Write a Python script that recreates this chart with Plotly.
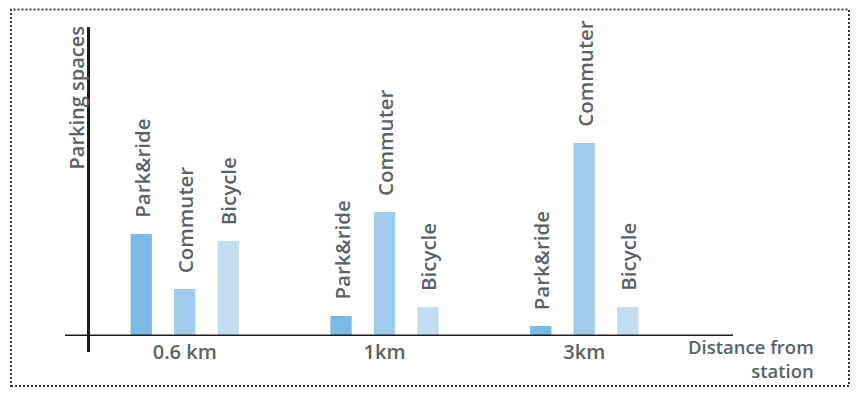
import plotly.graph_objects as go

# ---- data ----
distances = ["0.6 km", "1km", "3km"]
series_names = ["Park&ride", "Commuter", "Bicycle"]
park_ride = [102, 20, 10]
commuter = [47, 124, 193]
bicycle = [95, 29, 29]
series_values = [park_ride, commuter, bicycle]

# ---- style ----
colors = ["#7bbae4", "#a0ccec", "#c2dcf0"]
text_color = "#5a6167"
axis_color = "#1d1d1b"
FONT = "Open Sans"
WEIGHT = 600

OFF = 8  # page body margin
W, H = 858 - 2 * OFF, 395 - 2 * OFF
ML, MT = 65 - OFF, 27 - OFF
MB = 59 - OFF
PW = 733 - 65
MR = W - ML - PW
PH = H - MT - MB

def px_x(px):
    return (px - OFF - ML) / PW

def px_y(py):
    return (H - MB - (py - OFF)) / PH

cat_px = 199.75
first_cat_px = 184.75
bargap = 0.3467
slot_px = (1 - bargap) * cat_px / 3

fig = go.Figure()
for name, vals, col in zip(series_names, series_values, colors):
    fig.add_trace(go.Bar(x=distances, y=vals, name=name, marker_color=col,
                         marker_line_width=0, hoverinfo="skip"))

annotations = []
for i, (name, vals) in enumerate(zip(series_names, series_values)):
    for cat, v in zip(distances, vals):
        annotations.append(dict(
            x=cat, y=v, xref="x", yref="y", text=name, showarrow=False,
            textangle=-90, xanchor="center", yanchor="bottom",
            xshift=(i - 1) * slot_px, yshift=14,
            font=dict(family=FONT, size=20.5, color=text_color, weight=WEIGHT)))

annotations.append(dict(
    x=px_x(76), y=px_y(97.5), xref="paper", yref="paper", text="Parking spaces",
    showarrow=False, textangle=-90, xanchor="center", yanchor="middle",
    font=dict(family=FONT, size=20, color=text_color, weight=WEIGHT)))
annotations.append(dict(
    x=px_x(816), y=px_y(385), xref="paper", yref="paper",
    text="Distance from<br>station", align="right",
    showarrow=False, xanchor="right", yanchor="bottom",
    font=dict(family=FONT, size=18.5, color=text_color, weight=WEIGHT)))

shapes = [
    # dotted frame
    dict(type="rect", xref="paper", yref="paper",
         x0=px_x(11), x1=px_x(849), y0=px_y(386), y1=px_y(9.5),
         line=dict(color="#3a3a3a", width=2, dash="2px,2px"), layer="below"),
    # x axis line
    dict(type="line", xref="paper", yref="y", x0=0, x1=1, y0=0, y1=0,
         line=dict(color=axis_color, width=3)),
    # y axis line
    dict(type="line", xref="paper", yref="paper",
         x0=px_x(88.5), x1=px_x(88.5), y0=px_y(352), y1=1,
         line=dict(color=axis_color, width=3)),
]

fig.update_layout(
    width=W, height=H, autosize=False,
    margin=dict(l=ML, r=MR, t=MT, b=MB, pad=0),
    paper_bgcolor="white", plot_bgcolor="white",
    barmode="group", bargap=bargap, bargroupgap=0.51,
    showlegend=False,
    xaxis=dict(type="category",
               range=[(65 - first_cat_px) / cat_px, (733 - first_cat_px) / cat_px],
               showgrid=False, zeroline=False, showline=False, ticks="",
               tickfont=dict(family=FONT, size=20, color=text_color, weight=WEIGHT),
               ticklabelstandoff=2),
    yaxis=dict(range=[0, PH], showgrid=False, zeroline=False, showline=False,
               showticklabels=False, ticks=""),
    annotations=annotations,
    shapes=shapes,
)

fig.write_html("out.html")
